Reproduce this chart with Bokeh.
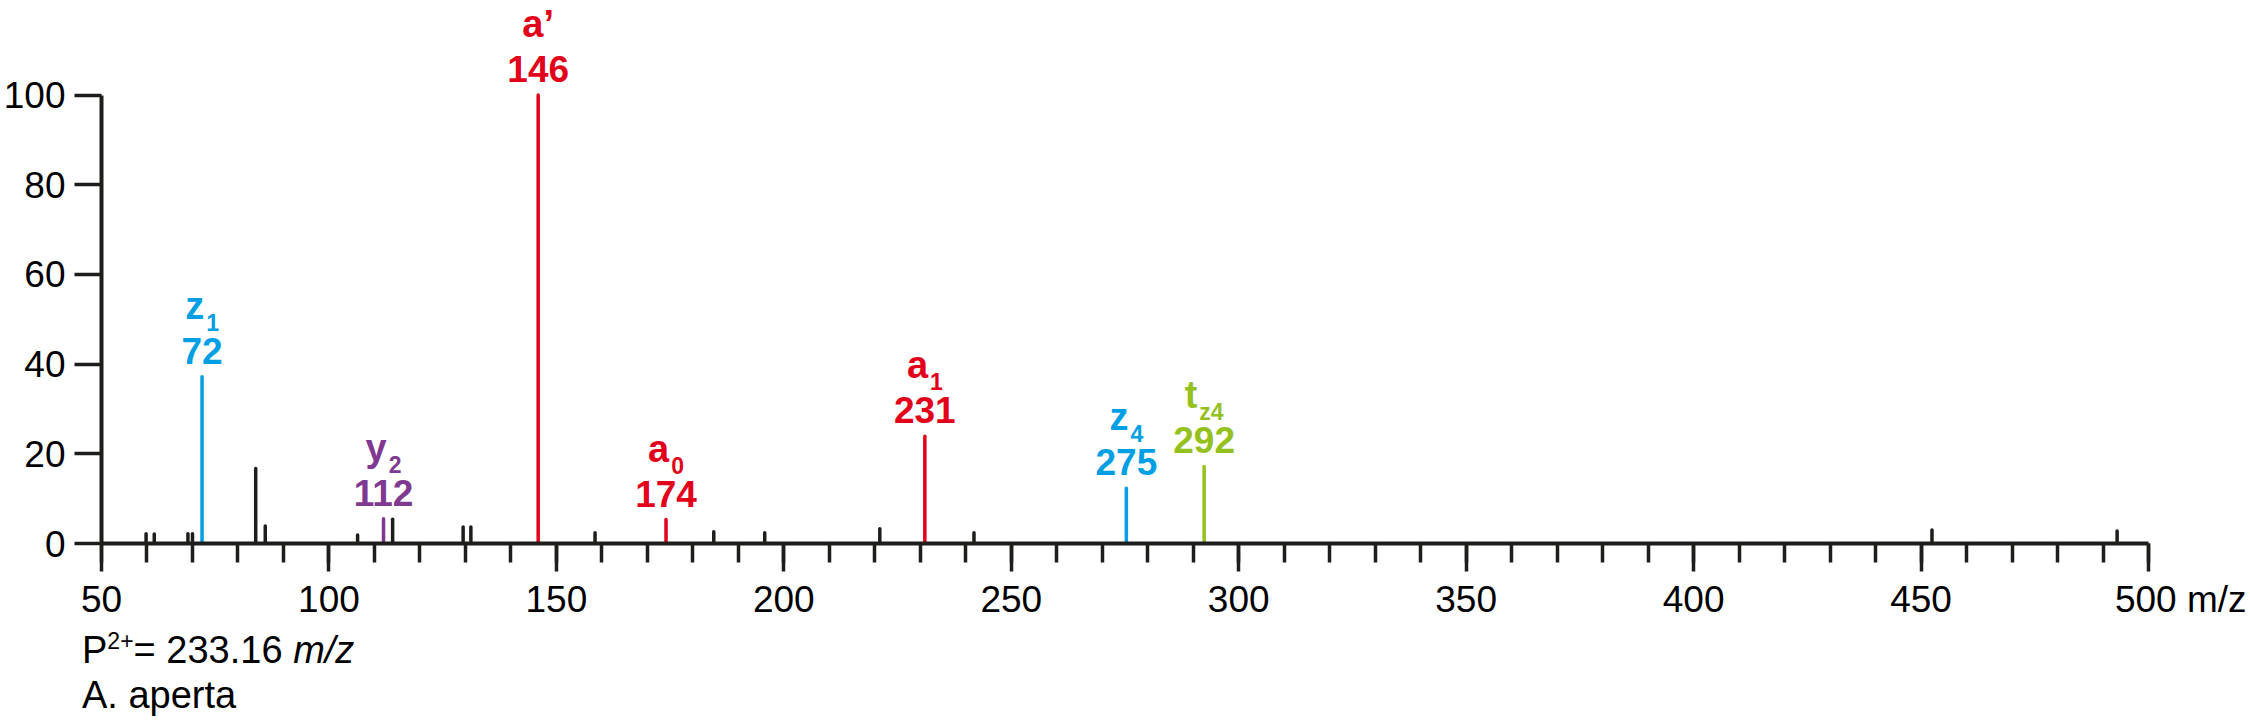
from bokeh.plotting import figure
from bokeh.models import ColumnDataSource, LabelSet, Range1d, FixedTicker, Div
from bokeh.layouts import column
from bokeh.core.properties import value
from bokeh.embed import file_html
from bokeh.resources import INLINE

# ---------------- data ----------------
peak_mz = [59.8, 61.6, 69.0, 70.0, 72.1, 83.9, 86.0, 106.3, 112.0, 114.0,
           129.5, 131.2, 146.0, 158.5, 174.1, 184.6, 195.8, 221.1, 231.0,
           241.8, 275.3, 292.4, 452.4, 493.1]
peak_intensity = [2.2, 2.1, 2.2, 2.2, 37.2, 16.7, 3.9, 1.9, 5.5, 5.4,
                  3.7, 3.7, 100.0, 2.4, 5.35, 2.6, 2.4, 3.3, 23.9,
                  2.4, 12.3, 17.2, 3.0, 2.8]
peak_ion = ["", "", "", "", "z", "", "", "", "y", "",
            "", "", "a", "", "a", "", "", "", "a",
            "", "z", "t", "", ""]

ion_mz_text = ["72", "112", "146", "174", "231", "275", "292"]
ion_letter = ["z", "y", "a\u2019", "a", "a", "z", "t"]
ion_sub = ["1", "2", "", "0", "1", "4", "z4"]

x_ticks = [50, 100, 150, 200, 250, 300, 350, 400, 450, 500]
x_minor_ticks = list(range(50, 501, 10))
y_ticks = [0, 20, 40, 60, 80, 100]
x_unit = "m/z"
precursor_label = "P"
precursor_charge = "2+"
precursor_value = "= 233.16"
species = "A. aperta"

# ---------------- style ----------------
ION_COLORS = {"z": "#009FE3", "y": "#803991", "a": "#E2001A", "t": "#95C11F", "": "#1D1D1B"}
BLACK = "#1D1D1B"
FONT = "Liberation Sans"
W_BOLD = {"z": .5, "y": .556, "a": .556, "t": .333, "\u2019": .278}
W_REG = {"P": .667, "=": .584, " ": .278, ".": .278, "+": .584, "m": .833, "/": .278,
         "z": .5, "\u00a0": .278}


def text_width(s, size, table):
    return sum(table.get(ch, .556) for ch in s) * size


MAIN_FS, SUB_FS, NUM_FS, TICK_FS, CAP_FS = 38, 23, 37, 37, 38
FIG_W = 2246

p = figure(width=FIG_W, height=625, output_backend="svg", toolbar_location=None,
           x_range=Range1d(50, 500), y_range=Range1d(0, 121.1),
           min_border_left=100, min_border_right=98, min_border_top=0,
           min_border_bottom=82)
p.outline_line_color = None
p.xgrid.visible = False
p.ygrid.visible = False

colors = [ION_COLORS[k] for k in peak_ion]
src = ColumnDataSource(dict(x=peak_mz, y0=[0] * len(peak_mz), y1=peak_intensity, c=colors))
p.segment(x0="x", y0="y0", x1="x", y1="y1", line_color="c", line_width=3.5,
          line_cap="round", source=src)

# ion labels
lx, ly, lcol, main_xo, sub_xo = [], [], [], [], []
for t, letter, sub in zip(ion_mz_text, ion_letter, ion_sub):
    i = min(range(len(peak_mz)), key=lambda k: abs(peak_mz[k] - float(t)))
    lx.append(peak_mz[i])
    ly.append(peak_intensity[i])
    lcol.append(ION_COLORS[letter[0]])
    mw = text_width(letter, MAIN_FS, W_BOLD)
    sw = text_width(sub, SUB_FS, W_BOLD) if sub else 0
    gap = 2 if sub else 0
    W = mw + gap + sw
    main_xo.append(-W / 2 + mw)
    sub_xo.append(-W / 2 + mw + gap)

lsrc = ColumnDataSource(dict(x=lx, y=ly, c=lcol, num=ion_mz_text, letter=ion_letter,
                             sub=ion_sub, mxo=main_xo, sxo=sub_xo))
p.add_layout(LabelSet(x="x", y="y", text="num", source=lsrc, y_offset=13,
                      text_align="center", text_baseline="alphabetic",
                      text_color="c", text_font=value(FONT), text_font_style="bold",
                      text_font_size=value(f"{NUM_FS}px")))
p.add_layout(LabelSet(x="x", y="y", text="letter", source=lsrc, x_offset="mxo", y_offset=58,
                      text_align="right", text_baseline="alphabetic",
                      text_color="c", text_font=value(FONT), text_font_style="bold",
                      text_font_size=value(f"{MAIN_FS}px")))
p.add_layout(LabelSet(x="x", y="y", text="sub", source=lsrc, x_offset="sxo", y_offset=46,
                      text_align="left", text_baseline="alphabetic",
                      text_color="c", text_font=value(FONT), text_font_style="bold",
                      text_font_size=value(f"{SUB_FS}px")))

# axes
xa = p.xaxis[0]
xa.ticker = FixedTicker(ticks=x_ticks, minor_ticks=x_minor_ticks)
xa.bounds = (50, 500)
xa.axis_line_width = 4
xa.axis_line_color = BLACK
xa.major_tick_in = 0
xa.major_tick_out = 28
xa.minor_tick_in = 0
xa.minor_tick_out = 19
xa.major_tick_line_width = 3.5
xa.minor_tick_line_width = 3.5
xa.major_tick_line_color = BLACK
xa.minor_tick_line_color = BLACK
xa.major_label_text_font = FONT
xa.major_label_text_font_size = f"{TICK_FS}px"
xa.major_label_text_color = "black"
xa.major_label_standoff = 7
# last tick carries the unit; padded on the left so "500" stays centred on its tick
pad = "\u00a0" * round(text_width(" " + x_unit, TICK_FS, W_REG) / (0.278 * TICK_FS))
xa.major_label_overrides = {500: pad + "500 " + x_unit}

ya = p.yaxis[0]
ya.ticker = FixedTicker(ticks=y_ticks, minor_ticks=[])
ya.bounds = (0, 100)
ya.axis_line_width = 4
ya.axis_line_color = BLACK
ya.major_tick_in = 0
ya.major_tick_out = 27
ya.major_tick_line_width = 3.5
ya.major_tick_line_color = BLACK
ya.minor_tick_line_color = None
ya.major_label_text_font = FONT
ya.major_label_text_font_size = f"{TICK_FS}px"
ya.major_label_text_color = "black"
ya.major_label_standoff = 9

# ---------------- caption ----------------
caption_html = (
    f"<div style=\"font-family:'{FONT}';font-size:{CAP_FS}px;line-height:45px;"
    f"padding:3px 0 0 82px;margin:0;color:black;white-space:nowrap\">"
    f"{precursor_label}<span style=\"font-size:{SUB_FS}px;vertical-align:14px;line-height:0\">"
    f"{precursor_charge}</span>{precursor_value} <i>{x_unit}</i><br>{species}</div>"
)
cap = Div(text=caption_html, width=FIG_W, height=95, margin=(0, 0, 0, 0))

layout = column(p, cap, spacing=0)
open("out.html", "w").write(file_html(layout, INLINE))
